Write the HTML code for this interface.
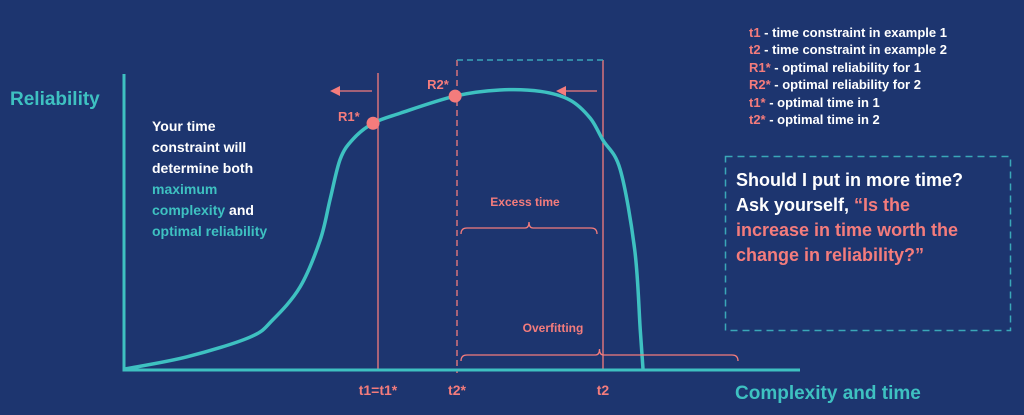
<!DOCTYPE html>
<html><head><meta charset="utf-8"><style>
html,body{margin:0;padding:0;background:#1d356f;}
svg{display:block;font-family:"Liberation Sans",sans-serif;font-weight:bold;}
</style></head><body>
<svg id="chart" width="1024" height="415" viewBox="0 0 1024 415">
<rect width="1024" height="415" fill="#1d356f"/>
<g id="plot"></g>
<text x="10" y="105" fill="#3ec1c1" font-size="19">Reliability</text>
<text x="735" y="399" fill="#3ec1c1" font-size="19">Complexity and time</text>
<g font-size="14" fill="#fff">
<text x="152" y="131">Your time</text>
<text x="152" y="152">constraint will</text>
<text x="152" y="173">determine both</text>
<text x="152" y="194" fill="#3ec1c1">maximum</text>
<text x="152" y="215"><tspan fill="#3ec1c1">complexity</tspan> and</text>
<text x="152" y="236" fill="#3ec1c1">optimal reliability</text>
</g>
<g font-size="13" fill="#fff">
<text x="749" y="37"><tspan fill="#f47c7c">t1</tspan> - time constraint in example 1</text>
<text x="749" y="54"><tspan fill="#f47c7c">t2</tspan> - time constraint in example 2</text>
<text x="749" y="72"><tspan fill="#f47c7c">R1*</tspan> - optimal reliability for 1</text>
<text x="749" y="89"><tspan fill="#f47c7c">R2*</tspan> - optimal reliability for 2</text>
<text x="749" y="107"><tspan fill="#f47c7c">t1*</tspan> - optimal time in 1</text>
<text x="749" y="124"><tspan fill="#f47c7c">t2*</tspan> - optimal time in 2</text>
</g>
<rect x="725.5" y="156.5" width="285" height="174" fill="none" stroke="#3aa7b8" stroke-width="1.5" stroke-dasharray="7,5"/>
<g font-size="18" fill="#fff">
<text x="736" y="186">Should I put in more time?</text>
<text x="736" y="211">Ask yourself, <tspan fill="#f47c7c">“Is the</tspan></text>
<text x="736" y="236" fill="#f47c7c">increase in time worth the</text>
<text x="736" y="261" fill="#f47c7c">change in reliability?”</text>
</g>
</svg>
<script>
// curve data: complexity vs reliability
const complexity=[0,6.8,13.7,16.2,19.2,21.4,22.5,23.6,25,27.2,30.2,36.2,41.1,45.6,48.8,51,52.4,54.3,55.9,56.5,56.8];
const reliability=[0,4.2,11,17,28.4,44.6,58.8,72.6,79.5,85,88.5,94.4,96.5,96,93,86.8,79.2,69,41,13.5,0];
const markC=[27.2,36.2];
const markR=[85,94.4];
const markLabels=["R1*","R2*"];
const X0=125,Y0=369,Y1=90;
const sx=c=>X0+(c/56.8)*(643-X0);
const sy=r=>Y0-(r/96.5)*(Y0-Y1);
const NS="http://www.w3.org/2000/svg";
const g=document.getElementById('plot');
function el(t,a){const e=document.createElementNS(NS,t);for(const k in a)e.setAttribute(k,a[k]);g.appendChild(e);return e;}
const S="#f47c7c",T="#3ec1c1";
let e;
e=el('line',{x1:378,y1:73,x2:378,y2:370,stroke:S,'stroke-width':1.3});


e=el('line',{x1:457,y1:60,x2:457,y2:373,stroke:S,'stroke-width':1.3,'stroke-dasharray':'6,4'});


e=el('line',{x1:603,y1:60,x2:603,y2:370,stroke:S,'stroke-width':1.3});


e=el('path',{d:'M457,60 H603',fill:'none',stroke:'#3aa7b8','stroke-width':1.5,'stroke-dasharray':'6,4'});


e=el('path',{d:'M124,74 V370 H800',fill:'none',stroke:T,'stroke-width':3});


const P=complexity.map((c,i)=>[sx(c),sy(reliability[i])]);
let d='M'+P[0][0]+','+P[0][1];
for(let i=0;i<P.length-1;i++){const p0=P[Math.max(i-1,0)],p1=P[i],p2=P[i+1],p3=P[Math.min(i+2,P.length-1)];
d+=` C${p1[0]+(p2[0]-p0[0])/6},${p1[1]+(p2[1]-p0[1])/6} ${p2[0]-(p3[0]-p1[0])/6},${p2[1]-(p3[1]-p1[1])/6} ${p2[0]},${p2[1]}`;}
e=el('path',{d:d,fill:'none',stroke:T,'stroke-width':3.5});


markC.forEach((c,i)=>{
 e=el('circle',{cx:sx(c),cy:sy(markR[i]),r:6.5,fill:S});
 
 
 e=el('text',{x:sx(c)-(i?28:35),y:sy(markR[i])-(i?7:2),fill:S,'font-size':13});e.textContent=markLabels[i];
 
 
});
[[372,330],[597,556]].forEach(a=>{
 e=el('line',{x1:a[0],y1:91,x2:a[1]+8,y2:91,stroke:S,'stroke-width':1.3});
 
 
 e=el('path',{d:`M${a[1]},91 l10,-5 v10 z`,fill:S});
 
 
});
function brace(x1,x2,y,name){const m=(x1+x2)/2;
 e=el('path',{d:`M${x1},${y+8} q0,-6 6,-6 H${m-4} q4,0 4,-6 q0,6 4,6 H${x2-6} q6,0 6,6`,fill:'none',stroke:S,'stroke-width':1.3});
 
 }
brace(461,597,226,'excess-time-brace');
brace(461,738,353,'overfitting-brace');
e=el('text',{x:525,y:206,fill:S,'font-size':12,'text-anchor':'middle'});e.textContent='Excess time';


e=el('text',{x:553,y:332,fill:S,'font-size':12,'text-anchor':'middle'});e.textContent='Overfitting';


const tickLabels=['t1=t1*','t2*','t2'];
const tickX=[378,457,603];
tickLabels.forEach((t,i)=>{
 e=el('text',{x:tickX[i],y:395,fill:S,'font-size':14,'text-anchor':'middle'});e.textContent=t;
 
 
});
</script>
</body></html>
